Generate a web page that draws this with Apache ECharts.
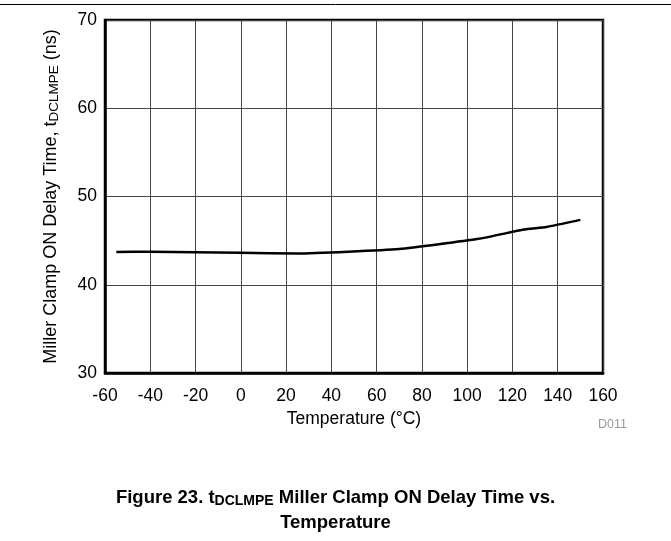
<!DOCTYPE html>
<html>
<head>
<meta charset="utf-8">
<script src="https://cdn.jsdelivr.net/npm/echarts@6/dist/echarts.min.js"></script>
<style>html,body{margin:0;padding:0;background:#fff;}#c{width:671px;height:541px;}</style>
</head>
<body>
<div id="c"></div>
<script>
const temperatures = [-55, -40, 0, 25, 70, 105, 125, 135, 150];
const delayNs = [43.7, 43.75, 43.62, 43.55, 44.05, 45.2, 46.25, 46.55, 47.35];
const xTicks = [-60, -40, -20, 0, 20, 40, 60, 80, 100, 120, 140, 160];
const yTicks = [30, 40, 50, 60, 70];

const seriesData = temperatures.map((t, i) => [t, delayNs[i]]);
const FONT = '"Liberation Sans", Arial, sans-serif';

const chart = echarts.init(document.getElementById('c'), null, {renderer: 'canvas'});
chart.setOption({
  animation: false,
  backgroundColor: '#fff',
  grid: {left: 105, right: 68, top: 20, bottom: 168, show: true, borderColor: '#000', borderWidth: 2.5},
  xAxis: {
    type: 'value', min: xTicks[0], max: xTicks[xTicks.length - 1], interval: 20,
    axisLine: {show: true, onZero: false, lineStyle: {color: '#000', width: 2.5}},
    axisTick: {show: false},
    splitLine: {show: true, lineStyle: {color: '#444', width: 1}},
    axisLabel: {color: '#000', fontSize: 17.5, fontFamily: FONT, margin: 14},
    name: 'Temperature (°C)', nameLocation: 'middle', nameGap: 34,
    nameTextStyle: {color: '#000', fontSize: 17.5, fontFamily: FONT}
  },
  yAxis: {
    type: 'value', min: yTicks[0], max: yTicks[yTicks.length - 1], interval: 10,
    axisLine: {show: true, onZero: false, lineStyle: {color: '#000', width: 2.5}},
    axisTick: {show: false},
    splitLine: {show: true, lineStyle: {color: '#444', width: 1}},
    axisLabel: {color: '#000', fontSize: 17.5, fontFamily: FONT, margin: 8},
    name: 'Miller Clamp ON Delay Time, t{sub|DCLMPE} (ns)', nameLocation: 'middle', nameGap: 44, nameRotate: 90,
    nameTextStyle: {color: '#000', fontSize: 18, fontFamily: FONT,
      rich: {sub: {fontSize: 13.5, fontFamily: FONT, color: '#000', padding: [6, 0, 0, 0]}}}
  },
  title: {
    left: 'center', top: 480,
    text: '{a|Figure 23. t}{sub|DCLMPE}{a| Miller Clamp ON Delay Time vs.}\n{a|Temperature}',
    textStyle: {
      rich: {
        a: {fontSize: 18.5, fontWeight: 'bold', fontFamily: FONT, color: '#000', lineHeight: 25},
        sub: {fontSize: 14, fontWeight: 'bold', fontFamily: FONT, color: '#000', padding: [7, 0, 0, 0]}
      }
    }
  },
  graphic: [
    {type: 'line', shape: {x1: 0, y1: 4.5, x2: 671, y2: 4.5}, style: {stroke: '#000', lineWidth: 1}},
    {type: 'text', left: 598, top: 418, style: {text: 'D011', fill: '#999', fontSize: 12.5, fontFamily: FONT}}
  ],
  series: [{
    type: 'line', data: seriesData, showSymbol: false, smooth: 0.15,
    lineStyle: {color: '#000', width: 2.5}
  }]
});
</script>
</body>
</html>
